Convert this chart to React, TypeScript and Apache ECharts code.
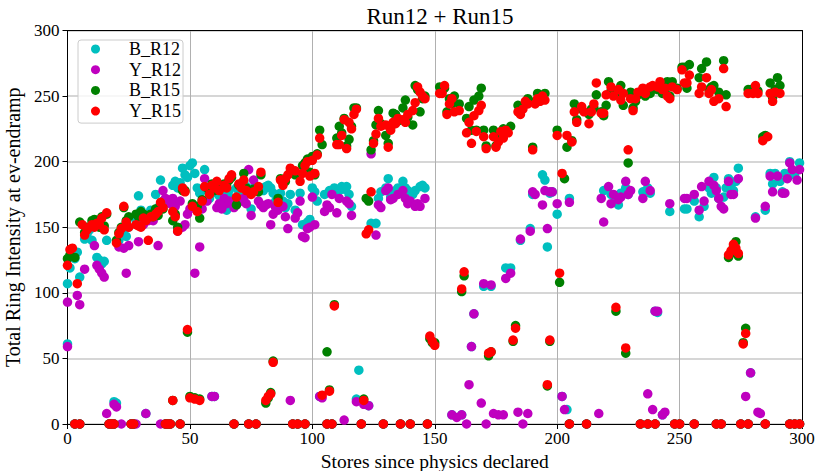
import React, { useEffect, useRef } from "react";
import * as echarts from "echarts";

const xTicks = [0, 50, 100, 150, 200, 250, 300];
const yTicks = [0, 50, 100, 150, 200, 250, 300];
const seriesNames = ["B_R12", "Y_R12", "B_R15", "Y_R15"];
const seriesColors = ["#00bfbf", "#bf00bf", "#008000", "#ff0000"];

const bR12 = [
  [0,61],[0,107],[1,119],[3,126],[3,0],[4,131],[5,112],[5,0],[7,141],[8,145],[9,148],[10,140],[12,127],[13,125],[14,122],[15,124],[16,140],[17,0],[18,0],[19,0],[19,17],
  [20,16],[21,140],[22,145],[23,148],[24,143],[25,150],[26,0],[27,0],[28,155],[29,174],[30,163],[31,160],[32,8],[33,158],[34,163],[35,160],[36,175],[37,165],[38,186],[39,170],
  [40,0],[41,0],[42,0],[43,182],[44,185],[45,180],[46,0],[46,184],[47,195],[48,190],[49,188],[50,197],[51,199],[52,191],[53,180],[54,176],[56,194],[57,178],[58,172],[59,21],
  [60,21],[61,176],[62,174],[63,170],[64,175],[65,163],[66,178],[67,172],[68,0],[69,180],[70,176],[71,172],[72,185],[73,181],[74,0],[75,164],[76,180],[77,0],[78,178],[79,180],
  [80,178],[81,181],[82,182],[83,180],[84,176],[85,170],[86,166],[87,176],[88,170],[89,165],[90,168],[91,175],[92,0],[93,163],[94,0],[95,176],[96,152],[97,0],[98,154],[99,156],
  [100,180],[101,177],[102,170],[103,21],[105,175],[106,0],[107,178],[108,0],[109,180],[110,176],[111,178],[112,181],[113,179],[114,181],[115,175],[116,166],[118,19],[119,41],
  [120,0],[123,14],[124,153],[126,153],[127,172],[128,177],[129,0],[130,180],[131,187],[132,173],[133,176],[134,178],[135,180],[136,0],[137,185],[138,180],[139,178],
  [140,0],[141,175],[142,178],[144,181],[145,182],[146,180],[147,0],
  [157,7],[161,7],[165,59],[166,84],[170,105],[173,105],[179,119],[181,119],[185,140],[189,149],[190,175],[194,190],[195,186],[196,135],[197,176],[198,177],
  [200,160],[202,21],[204,11],[205,0],[205,172],[212,0],[219,178],[222,175],[224,172],[225,167],[226,176],[228,180],[229,175],[234,0],[235,177],[237,180],[237,0],[238,176],
  [240,0],[240,86],[241,85],[243,7],[246,162],[248,0],[250,0],[252,164],
  [253,164],[256,0],[256,170],[258,158],[260,166],[262,180],[263,176],[264,188],[265,0],[265,180],[266,172],[267,0],[268,173],[269,180],
  [270,187],[271,182],[272,178],[273,185],[274,195],[275,0],[278,0],[279,39],[281,158],[285,0],[285,163],[287,191],[288,183],[289,191],[291,185],[292,177],[293,191],[294,188],
  [295,0],[295,200],[297,0],[297,190],[299,0],[299,199]
];

const yR12 = [
  [0,59],[0,93],[3,0],[4,98],[5,91],[5,0],[7,118],[11,136],[12,121],[13,118],[14,115],[15,112],[16,8],[17,0],[18,0],[19,0],[19,15],
  [20,13],[21,135],[22,0],[23,134],[24,115],[25,136],[26,0],[27,0],[28,0],[29,139],[31,152],[32,8],[33,155],[34,158],[35,155],[36,160],[37,136],[38,0],[39,178],
  [40,0],[40,172],[41,0],[42,0],[42,168],[43,172],[44,166],[45,147],[46,0],[46,170],[47,150],[48,152],[49,160],[50,164],[52,115],[53,164],[54,135],[55,164],[56,187],[57,170],[59,21],
  [60,21],[61,165],[62,168],[63,164],[64,172],[65,168],[66,170],[68,0],[68,165],[69,167],[70,170],[71,170],[72,172],[73,168],[74,0],[74,194],[75,159],[76,186],[77,0],[78,170],[79,167],
  [80,165],[81,167],[82,168],[83,152],[84,160],[85,165],[86,163],[88,166],[89,158],[90,149],[91,18],[92,0],[93,157],[94,0],[94,161],[95,170],[96,143],[97,0],[97,142],[98,149],[99,150],
  [100,173],[101,152],[103,21],[104,20],[105,162],[106,0],[106,167],[107,165],[108,0],[108,175],[110,161],[111,172],[113,3],[114,170],[115,168],[116,159],[118,17],
  [120,0],[121,15],[123,14],[124,206],[126,144],[127,167],[128,165],[129,0],[130,178],[131,180],[132,171],[133,172],[135,175],[136,0],[137,178],[138,172],[139,168],
  [140,0],[140,170],[142,166],[143,168],[144,166],[146,172],[147,0],
  [157,7],[159,5],[161,7],[163,0],[164,30],[165,59],[166,84],[169,16],[170,107],[171,0],[173,106],[174,8],[176,7],[178,7],[179,111],[181,115],[184,9],[185,141],[186,0],[188,8],[189,147],
  [190,177],[191,175],[194,167],[195,178],[196,149],[197,177],[198,177],
  [200,168],[202,21],[203,11],[205,0],[205,169],[212,0],[217,8],[218,172],[219,154],[221,181],[222,168],[223,175],[225,171],[226,173],[228,185],[229,175],[230,178],[234,0],[235,172],[236,185],[237,0],[237,23],[238,178],[239,11],
  [240,0],[240,86],[241,86],[243,7],[244,9],[246,168],[248,0],[250,0],[252,172],
  [253,172],[256,0],[256,175],[258,163],[259,181],[260,170],[262,185],[264,182],[265,0],[265,178],[266,172],[267,0],[267,166],[268,164],
  [270,185],[271,175],[272,175],[274,187],[275,0],[277,21],[278,0],[279,39],[281,157],[282,9],[283,8],[285,0],[285,166],[287,189],[288,177],[290,189],[292,176],[293,176],[294,187],
  [295,0],[295,199],[296,194],[297,0],[298,186],[299,0],[299,194]
];

const bR15 = [
  [0,126],[1,129],[3,127],[3,0],[5,154],[5,0],[7,146],[8,150],[10,155],[11,156],[12,155],[13,150],[14,158],[15,151],[16,160],[17,0],[18,0],[19,0],
  [20,140],[21,146],[22,150],[23,165],[24,155],[25,158],[26,0],[27,0],[28,160],[29,158],[30,162],[31,160],[32,158],[34,160],[35,158],[36,164],[37,159],[38,167],[39,164],
  [40,0],[41,0],[42,0],[43,155],[43,18],[44,160],[45,150],[46,0],[47,178],[48,178],[49,70],[50,21],[51,168],[52,20],[53,166],[54,19],[54,157],[55,171],[57,180],[58,176],[59,183],
  [60,178],[61,184],[62,180],[64,183],[65,182],[66,186],[67,188],[68,0],[69,167],[70,182],[71,183],[72,191],[73,180],[74,0],[75,177],[76,179],[77,0],[78,177],[79,190],
  [81,16],[82,20],[83,24],[84,48],[86,172],[87,187],[88,184],[89,185],[91,192],[92,0],[93,190],[94,0],[96,197],[97,0],[97,199],[98,202],[99,192],
  [100,204],[101,190],[102,206],[103,224],[104,213],[106,55],[106,0],[107,26],[108,0],[109,91],[110,218],[111,227],[112,222],[113,233],[114,212],[115,217],[116,227],[117,241],[118,241],
  [120,0],[121,19],[122,172],[123,170],[124,209],[125,216],[126,228],[127,239],[128,229],[129,0],[130,220],[131,214],[132,226],[133,237],[134,236],[135,231],[136,0],[137,241],[138,247],[139,234],
  [140,0],[141,228],[142,258],[143,255],[144,238],[145,248],[146,250],[147,0],[148,65],[149,62],[150,62],
  [152,257],[153,254],[154,256],[155,238],[156,248],[157,244],[158,250],[160,244],[161,101],[162,113],[163,233],[164,242],[165,224],[166,247],[167,224],[168,250],[169,256],
  [170,224],[171,212],[172,52],[173,55],[174,224],[175,212],[177,220],[178,225],[179,222],[181,227],[182,63],[183,75],[184,243],[185,238],[186,242],[188,248],
  [190,211],[191,246],[192,252],[193,249],[195,252],[196,29],[197,63],
  [200,224],[201,108],[203,187],[204,211],[205,0],[206,216],[207,244],[208,232],[210,240],[212,0],[213,236],[214,240],[215,241],[216,251],[218,238],[219,235],
  [220,243],[221,261],[222,254],[224,86],[225,253],[226,258],[227,243],[228,54],[229,199],[230,253],[231,241],[232,246],[233,251],[234,0],[235,254],[236,250],[237,0],[238,252],[239,256],
  [240,0],[241,255],[242,258],[243,252],[244,254],[245,261],[246,250],[247,261],[248,0],[249,256],
  [250,0],[251,272],[252,272],[253,256],[254,274],[256,0],[258,264],[259,271],[261,276],[262,255],[263,257],[264,258],[265,0],[266,253],[267,0],[268,277],[269,251],
  [270,127],[271,130],[272,135],[273,139],[274,128],[275,0],[276,62],[277,73],[278,0],[278,255],[279,255],[281,256],[282,254],[284,219],[285,0],[285,220],[287,260],[288,249],[289,255],[290,264],[291,258],
  [295,0],[297,0],[299,0]
];

const yR15 = [
  [0,121],[1,133],[2,134],[3,0],[4,107],[5,0],[6,152],[7,144],[8,148],[9,150],[10,152],[11,150],[12,153],[13,152],[14,157],[15,148],[16,161],[17,0],[18,0],[19,0],
  [20,138],[21,145],[22,149],[23,166],[24,154],[25,150],[26,0],[27,0],[28,152],[29,151],[30,150],[31,157],[32,155],[33,140],[34,158],[35,158],[36,160],[37,162],[38,169],[39,165],
  [40,0],[41,0],[42,0],[43,162],[43,18],[44,158],[45,147],[46,0],[47,180],[48,177],[49,72],[50,20],[51,166],[52,19],[53,162],[54,18],[55,170],[56,181],[58,175],[59,182],
  [60,180],[61,185],[62,178],[64,182],[65,180],[66,187],[67,190],[68,0],[69,173],[70,183],[71,180],[72,186],[73,178],[74,0],[75,175],[76,177],[77,0],[78,181],[79,192],
  [81,18],[82,21],[83,23],[84,47],[86,169],[87,186],[88,182],[89,187],[90,190],[91,195],[92,0],[93,193],[94,0],[95,185],[96,191],[97,0],[97,197],[98,200],[99,189],
  [100,201],[101,191],[102,205],[103,218],[104,22],[106,0],[107,25],[108,0],[109,90],[110,213],[111,213],[112,220],[113,232],[114,210],[115,230],[116,225],[117,236],[118,240],
  [120,0],[121,18],[122,145],[123,148],[124,177],[125,214],[126,221],[127,233],[128,227],[129,0],[130,228],[131,211],[132,224],[133,230],[134,229],[135,233],[136,0],[137,232],[138,230],[139,236],
  [140,0],[141,239],[142,245],[143,257],[144,253],[145,250],[146,248],[147,0],[148,67],[149,63],[150,60],
  [152,252],[153,252],[154,258],[155,236],[156,244],[157,248],[158,238],[160,239],[161,103],[162,116],[163,222],[164,230],[165,214],[166,235],[167,223],[168,239],[169,243],
  [170,219],[171,210],[172,54],[173,55],[174,219],[175,211],[176,215],[177,223],[178,218],[179,224],[180,222],[182,64],[183,73],[184,238],[185,236],[186,240],[187,246],[188,244],
  [190,209],[191,244],[192,248],[193,246],[194,250],[195,247],[196,30],[197,64],
  [200,220],[201,115],[202,191],[204,220],[205,0],[206,215],[207,238],[208,230],[210,242],[211,238],[212,0],[213,229],[214,238],[215,244],[216,260],[218,237],[219,237],
  [220,251],[222,257],[223,250],[224,89],[225,255],[226,247],[227,252],[228,58],[229,209],[230,248],[231,239],[232,248],[233,253],[234,0],[235,256],[236,252],[237,0],[238,257],[239,258],
  [240,0],[241,257],[242,261],[243,255],[244,256],[245,250],[246,248],[247,257],[248,0],[249,255],
  [250,0],[251,270],[252,260],[253,260],[254,266],[256,0],[258,252],[259,257],[261,264],[262,252],[263,255],[264,246],[265,0],[266,248],[267,0],[268,271],[269,242],
  [270,129],[271,132],[272,137],[273,134],[274,130],[275,0],[276,61],[277,69],[278,0],[278,252],[280,252],[281,258],[282,252],[284,216],[285,0],[286,219],[287,252],[288,246],[289,253],[291,252],
  [295,0],[297,0],[299,0]
];

const seriesData = [bR12, yR12, bR15, yR15];
const FONT = "'Liberation Serif', 'DejaVu Serif', serif";

export default function App() {
  const ref = useRef<HTMLDivElement>(null);
  useEffect(() => {
    if (!ref.current) return;
    const chart = echarts.init(ref.current, undefined, { renderer: "svg" });
    const baseAxis = {
      type: "value" as const,
      min: xTicks[0],
      max: xTicks[xTicks.length - 1],
      interval: xTicks[1] - xTicks[0],
    };
    chart.setOption({
      animation: false,
      backgroundColor: "#ffffff",
      title: {
        text: "Run12 + Run15",
        left: 435,
        top: 0,
        textAlign: "center",
        textStyle: { fontFamily: FONT, fontSize: 23, fontWeight: "normal", color: "#000" },
      },
      legend: {
        data: seriesNames,
        orient: "vertical",
        left: 78,
        top: 40,
        icon: "circle",
        itemWidth: 9,
        itemHeight: 9,
        itemGap: 2.7,
        padding: [0, 2, 3, 13],
        backgroundColor: "rgba(255,255,255,0.8)",
        borderColor: "#cccccc",
        borderWidth: 1,
        borderRadius: 3,
        textStyle: { fontFamily: FONT, fontSize: 18, color: "#000", lineHeight: 14, padding: [0, 0, 0, 24] },
      },
      grid: { left: 67.5, right: 15, top: 30.5, bottom: 47, containLabel: false, outerBoundsMode: "none" },
      xAxis: [
        {
          ...baseAxis,
          position: "bottom",
          name: "Stores since physics declared",
          nameLocation: "middle",
          nameGap: 25,
          nameTextStyle: { fontFamily: FONT, fontSize: 19.5, color: "#000" },
          axisLine: { show: true, onZero: false, lineStyle: { color: "#000", width: 1 } },
          axisTick: { show: true, length: 5, lineStyle: { color: "#000", width: 1 } },
          axisLabel: { fontFamily: FONT, fontSize: 17, color: "#000", margin: 6 },
          splitLine: { show: true, lineStyle: { color: "#b0b0b0", width: 1 } },
        },
        {
          ...baseAxis,
          position: "top",
          axisLine: { show: true, onZero: false, lineStyle: { color: "#000", width: 1 } },
          axisTick: { show: false },
          axisLabel: { show: false },
          splitLine: { show: false },
        },
      ],
      yAxis: [
        {
          type: "value",
          min: yTicks[0],
          max: yTicks[yTicks.length - 1],
          interval: yTicks[1] - yTicks[0],
          position: "left",
          name: "Total Ring Intensity at ev-endramp",
          nameLocation: "middle",
          nameGap: 33,
          nameTextStyle: { fontFamily: FONT, fontSize: 20, color: "#000" },
          axisLine: { show: true, onZero: false, lineStyle: { color: "#000", width: 1 } },
          axisTick: { show: true, length: 5, lineStyle: { color: "#000", width: 1 } },
          axisLabel: { fontFamily: FONT, fontSize: 17, color: "#000", margin: 8 },
          splitLine: { show: true, lineStyle: { color: "#d6d6d6", width: 1.8 } },
        },
        {
          type: "value",
          min: yTicks[0],
          max: yTicks[yTicks.length - 1],
          interval: yTicks[1] - yTicks[0],
          position: "right",
          axisLine: { show: true, onZero: false, lineStyle: { color: "#000", width: 1 } },
          axisTick: { show: false },
          axisLabel: { show: false },
          splitLine: { show: false },
        },
      ],
      series: seriesNames.map((name, i) => ({
        name,
        type: "scatter",
        xAxisIndex: 0,
        yAxisIndex: 0,
        data: seriesData[i],
        symbol: "circle",
        symbolSize: 9.5,
        itemStyle: { color: seriesColors[i], opacity: 1 },
        emphasis: { disabled: true },
        z: 2 + i,
      })),
    });
    return () => chart.dispose();
  }, []);
  return (
    <div style={{ position: "fixed", left: 0, top: 0, width: 817, height: 471, background: "#fff" }}>
      <div ref={ref} style={{ width: 817, height: 471 }} />
    </div>
  );
}
